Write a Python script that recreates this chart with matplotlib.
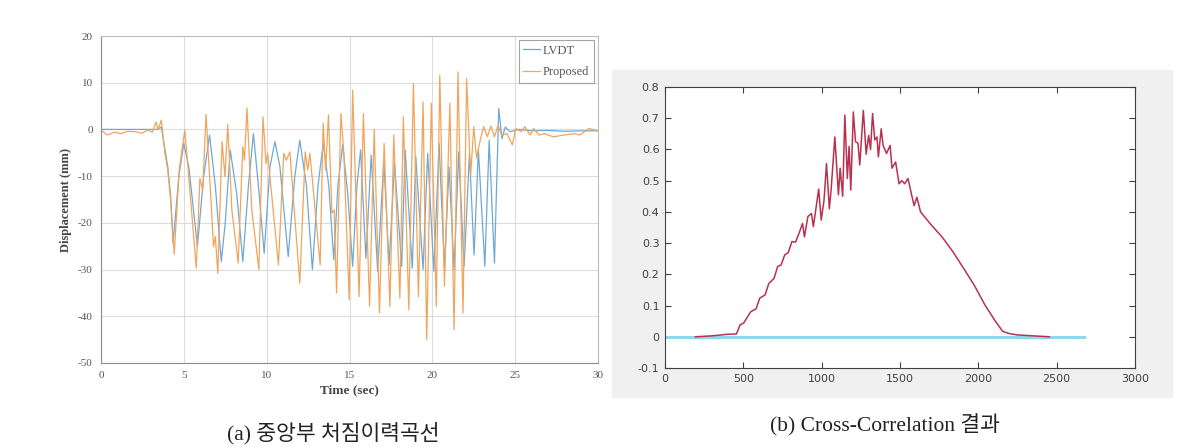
import matplotlib.pyplot as plt
import numpy as np

plt.rcParams['axes.unicode_minus'] = False

# ---------- data: (a) displacement history, extrema ----------
t_prop = [0, 0.37, 0.8, 1.23, 1.6, 2.09, 2.5, 2.84, 3.1, 3.32, 3.45, 3.64, 3.86, 4.03, 4.2,
          4.42, 4.72, 5.06, 5.43, 5.75, 5.97, 6.14, 6.34, 6.66, 6.79, 6.9, 7.05, 7.31,
          7.48, 7.65, 7.9, 8.28, 8.56, 8.66, 8.81, 9.1, 9.53, 9.78, 9.96, 10.06, 10.39,
          10.71, 11.03, 11.19, 11.4, 12.0, 12.33, 12.48, 12.61, 13.23, 13.41, 13.56,
          13.73, 13.94, 14.07, 14.22, 14.48, 14.66, 14.98, 15.19, 15.58, 15.84, 16.21,
          16.49, 16.81, 17.09, 17.44, 17.67, 18.04, 18.25, 18.58, 18.86, 19.16, 19.44,
          19.66, 19.94, 20.24, 20.45, 20.73, 21.06, 21.31, 21.55, 21.85, 22.07, 22.31,
          22.5, 22.67, 22.89, 23.1, 23.32, 23.53, 23.75, 23.97, 24.18, 24.5, 24.83,
          25.04, 25.37, 25.58, 25.9, 26.12, 26.44, 26.77, 27.3, 27.95, 28.6, 28.9,
          29.46, 30]
v_prop = [-0.1, -1.2, -0.6, -0.9, -0.4, -0.5, -0.8, -0.1, -0.6, 1.6, -0.1, 2.0, -5.1, -8.7,
          -15.1, -26.7, -8.7, -0.1, -15.8, -29.7, -10.5, -13.0, 3.2, -16.5, -25.1, -22.9,
          -30.8, -2.6, -10.1, 1.1, -17.2, -28.6, -3.7, -6.6, 4.6, -17.2, -30.0, 2.7, -7.3,
          -5.1, -17.2, -29.0, -5.1, -6.6, -4.8, -32.9, -4.8, -8.7, -5.1, -29.0, 1.3, -8.7,
          3.1, -17.9, -17.2, -35.0, 3.4, -5.1, -36.5, 8.4, -35.8, 3.4, -37.9, -0.1, -39.3,
          -3.0, -37.9, -1.2, -36.1, 2.7, -38.6, 9.8, -35.8, 5.9, -45.0, 5.6, -37.9, 11.6,
          -33.6, 5.6, -42.9, 12.3, -39.3, 10.9, -10.1, 0.6, -6.2, -2.3, 0.6, -1.6, 0.7,
          -1.6, 0.9, -1.2, -0.9, -3.3, 0.2, -0.5, 0.6, -1.2, 0.2, -1.2, -0.9, -1.6, -1.2,
          -0.9, -1.2, 0.2, -0.3]

t_lvdt = [0, 3.4, 3.64, 4.03, 4.2, 4.35, 4.7, 5.0, 5.3, 5.82, 6.2, 6.55, 6.9, 7.26, 7.5,
          7.8, 8.2, 8.56, 8.9, 9.2, 9.5, 9.85, 10.2, 10.5, 10.8, 11.3, 11.7, 12.0, 12.4,
          12.76, 13.1, 13.41, 13.75, 14.05, 14.3, 14.59, 14.9, 15.19, 15.45, 15.67, 15.99,
          16.31, 16.7, 17.07, 17.39, 17.72, 18.15, 18.36, 18.79, 19.0, 19.44, 19.72,
          20.09, 20.41, 20.73, 21.01, 21.31, 21.59, 21.92, 22.24, 22.52, 22.78, 23.17,
          23.43, 23.75, 24.01, 24.2, 24.4, 24.7, 25.2, 26.0, 27.0, 28.0, 29.0, 30]
v_lvdt = [0, 0, 0.5, -8.0, -14.0, -24.4, -10.0, -3.0, -8.0, -25.0, -10.0, -1.2, -12.0,
          -28.3, -20.0, -4.4, -14.0, -28.3, -12.0, -0.9, -12.0, -26.5, -8.0, -2.6, -8.0,
          -27.2, -10.0, -2.3, -12.0, -30.0, -12.0, -3.0, -12.0, -27.9, -12.0, -3.3, -14.0,
          -29.3, -12.0, -4.4, -27.6, -5.5, -30.4, -6.6, -29.0, -7.3, -29.3, -4.4, -29.7,
          -5.8, -30.0, -5.1, -30.4, -3.0, -29.7, -8.0, -30.0, -4.8, -29.3, -5.1, -26.9,
          -4.4, -29.3, -2.3, -28.6, 4.5, -2.0, 0.5, -0.5, 0.0, -0.3, -0.2, -0.4, -0.3, -0.3]

# ---------- data: (b) cross-correlation ----------
lag = [194, 300, 400, 456, 479, 502, 547, 582, 605, 639, 662, 696, 719, 741, 764, 787,
       810, 833, 855, 878, 890, 912, 935, 947, 981, 997, 1015, 1031, 1049, 1061, 1084,
       1107, 1118, 1134, 1148, 1164, 1175, 1186, 1202, 1216, 1232, 1243, 1266, 1284,
       1300, 1312, 1325, 1339, 1353, 1362, 1380, 1392, 1414, 1437, 1449, 1472, 1494,
       1512, 1530, 1551, 1574, 1590, 1608, 1631, 1700, 1768, 1837, 1905, 1973, 2042,
       2110, 2156, 2200, 2247, 2350, 2453]
xcorr = [0, 0.003, 0.008, 0.009, 0.038, 0.044, 0.08, 0.09, 0.124, 0.134, 0.17, 0.187,
         0.225, 0.23, 0.262, 0.27, 0.305, 0.303, 0.331, 0.363, 0.32, 0.385, 0.395, 0.353,
         0.473, 0.374, 0.437, 0.555, 0.41, 0.475, 0.64, 0.455, 0.54, 0.45, 0.71, 0.507,
         0.61, 0.47, 0.72, 0.625, 0.62, 0.55, 0.725, 0.585, 0.645, 0.60, 0.715, 0.63, 0.64,
         0.576, 0.666, 0.613, 0.587, 0.613, 0.54, 0.56, 0.49, 0.50, 0.49, 0.507, 0.455,
         0.42, 0.447, 0.40, 0.358, 0.32, 0.273, 0.22, 0.166, 0.102, 0.049, 0.017, 0.01,
         0.006, 0.003, 0.0]
base_lag = [11, 2676]
base_val = [0, 0]

fig = plt.figure(figsize=(11.8, 4.47), dpi=100)
W, H = 1180, 447

# ---------- (a) ----------
ax1 = fig.add_axes([101 / W, 1 - 363 / H, 497 / W, 327 / H])
ax1.plot(t_lvdt, v_lvdt, color='#6fa8d6', lw=0.9, label='LVDT')
ax1.plot(t_prop, v_prop, color='#f0a55c', lw=0.9, label='Proposed')
ax1.set_xlim(0, 30)
ax1.set_ylim(-50, 20)
ax1.set_xticks(np.arange(0, 31, 5))
ax1.set_yticks(np.arange(-50, 21, 10))
ax1.grid(True, color='#dcdcdc', lw=0.8)
ax1.set_axisbelow(True)
ax1.tick_params(length=0, labelsize=8, colors='#555555', pad=6)
for lab in ax1.get_xticklabels() + ax1.get_yticklabels():
    lab.set_family('Liberation Serif')
for side in ['left', 'bottom']:
    ax1.spines[side].set_color('#8c8c8c')
for side in ['top', 'right']:
    ax1.spines[side].set_color('#bdbdbd')
ax1.set_xlabel('Time (sec)', family='Liberation Serif', fontweight='bold',
               fontsize=9.5, color='#444444', labelpad=3)
ax1.set_ylabel('Displacement (mm)', family='Liberation Serif', fontweight='bold',
               fontsize=9, color='#444444', labelpad=4)
leg = ax1.legend(loc='upper right', fancybox=False, frameon=True, handlelength=1.4,
                 borderaxespad=0.35, prop={'family': 'Liberation Serif', 'size': 9},
                 labelspacing=0.75, handletextpad=0.2, borderpad=0.35)
leg.get_frame().set_edgecolor('#8c8c8c')
leg.get_frame().set_linewidth(0.8)
for txt in leg.get_texts():
    txt.set_color('#555555')

# ---------- (b) ----------
bg = plt.Rectangle((612 / W, 1 - 397 / H), 560 / W, 327 / H, transform=fig.transFigure,
                   color='#f0f0f0', zorder=-10)
fig.patches.append(bg)
ax2 = fig.add_axes([665 / W, 1 - 368 / H, 470 / W, 281 / H])
ax2.plot(base_lag, base_val, color='#8ed6f2', lw=2.2)
ax2.plot(lag, xcorr, color='#b8324f', lw=1.1)
ax2.set_xlim(0, 3000)
ax2.set_ylim(-0.1, 0.8)
ax2.set_xticks(np.arange(0, 3001, 500))
ax2.set_yticks(np.round(np.arange(-0.1, 0.81, 0.1), 1))
ax2.set_yticklabels(['-0.1', '0', '0.1', '0.2', '0.3', '0.4', '0.5', '0.6', '0.7', '0.8'])
ax2.tick_params(direction='in', top=True, right=True, length=4, width=0.8,
                labelsize=8, colors='#404040', pad=4)
for sp in ax2.spines.values():
    sp.set_color('#404040')
    sp.set_linewidth(0.8)

# ---------- captions ----------
fam = ['Liberation Serif', 'Noto Sans CJK KR']
fig.text(333 / W, 1 - 433 / H, '(a) 중앙부 처짐이력곡선', ha='center', va='center',
         fontsize=15.5, family=fam, color='#222222')
fig.text(885 / W, 1 - 425 / H, '(b) Cross-Correlation 결과', ha='center', va='center',
         fontsize=15.5, family=fam, color='#222222')

fig.savefig('out.png', dpi=100)
